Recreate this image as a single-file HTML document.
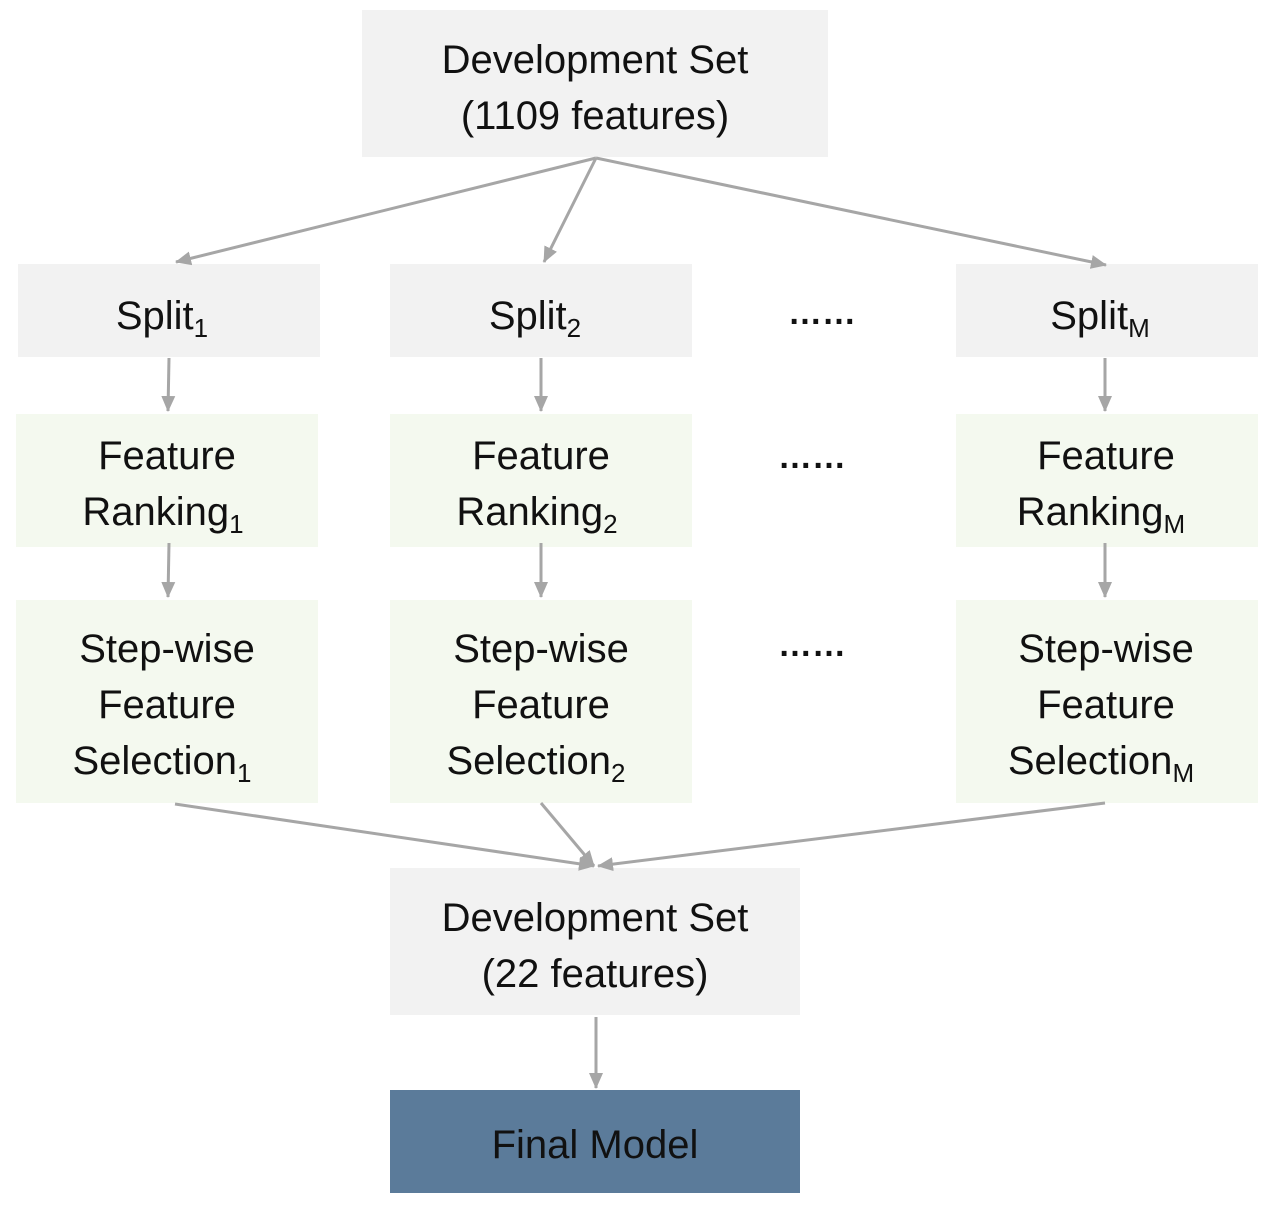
<!DOCTYPE html>
<html><head><meta charset="utf-8"><style>
html,body{margin:0;padding:0;background:#fff;}
svg{display:block;}
text{font-family:"Liberation Sans",sans-serif;font-size:40px;fill:#111;text-anchor:middle;}
.s{font-size:26px;}
.d{font-size:34px;font-weight:bold;}
</style></head><body>
<svg width="1274" height="1206" viewBox="0 0 1274 1206" xmlns="http://www.w3.org/2000/svg">
<defs>
<marker id="b" markerWidth="16" markerHeight="14" refX="15" refY="7" orient="auto" markerUnits="userSpaceOnUse"><path d="M0,0 L16,7 L0,14 z" fill="#a6a6a6"/></marker></defs>
<g fill="#f2f2f2">
<rect x="362" y="10" width="466" height="147"/>
<rect x="18" y="264" width="302" height="93"/>
<rect x="390" y="264" width="302" height="93"/>
<rect x="956" y="264" width="302" height="93"/>
<rect x="390" y="868" width="410" height="147"/>
</g>
<g fill="#f4f9ef">
<rect x="16" y="414" width="302" height="133"/>
<rect x="390" y="414" width="302" height="133"/>
<rect x="956" y="414" width="302" height="133"/>
<rect x="16" y="600" width="302" height="203"/>
<rect x="390" y="600" width="302" height="203"/>
<rect x="956" y="600" width="302" height="203"/>
</g>
<rect x="390" y="1090" width="410" height="103" fill="#5b7b9a"/>
<g stroke="#a6a6a6" stroke-width="3" fill="none" marker-end="url(#b)">
<line x1="596" y1="158" x2="176" y2="262"/>
<line x1="596" y1="158" x2="544" y2="262"/>
<line x1="596" y1="158" x2="1106" y2="265"/>
<line x1="169" y1="358" x2="168" y2="411"/>
<line x1="541" y1="358" x2="541" y2="411"/>
<line x1="1105" y1="358" x2="1105" y2="411"/>
<line x1="169" y1="543" x2="168" y2="597"/>
<line x1="541" y1="543" x2="541" y2="597"/>
<line x1="1105" y1="543" x2="1105" y2="597"/>
<line x1="175" y1="804" x2="594" y2="866"/>
<line x1="541" y1="803" x2="594" y2="866"/>
<line x1="1105" y1="803" x2="598" y2="866"/>
<line x1="596" y1="1017" x2="596" y2="1088"/>
</g>
<text x="595" y="73">Development Set</text>
<text x="595" y="129">(1109 features)</text>
<text x="162" y="329">Split<tspan class="s" dy="8">1</tspan></text>
<text x="535" y="329">Split<tspan class="s" dy="8">2</tspan></text>
<text x="1100" y="329">Split<tspan class="s" dy="8">M</tspan></text>
<text class="d" x="822" y="324">……</text>
<text class="d" x="812" y="468">……</text>
<text class="d" x="812" y="656">……</text>
<text x="167" y="469">Feature</text>
<text x="163" y="525">Ranking<tspan class="s" dy="8">1</tspan></text>
<text x="541" y="469">Feature</text>
<text x="537" y="525">Ranking<tspan class="s" dy="8">2</tspan></text>
<text x="1106" y="469">Feature</text>
<text x="1101" y="525">Ranking<tspan class="s" dy="8">M</tspan></text>
<text x="167" y="662">Step-wise</text>
<text x="167" y="718">Feature</text>
<text x="162" y="774">Selection<tspan class="s" dy="8">1</tspan></text>
<text x="541" y="662">Step-wise</text>
<text x="541" y="718">Feature</text>
<text x="536" y="774">Selection<tspan class="s" dy="8">2</tspan></text>
<text x="1106" y="662">Step-wise</text>
<text x="1106" y="718">Feature</text>
<text x="1101" y="774">Selection<tspan class="s" dy="8">M</tspan></text>
<text x="595" y="931">Development Set</text>
<text x="595" y="987">(22 features)</text>
<text x="595" y="1158">Final Model</text>
</svg>
</body></html>
